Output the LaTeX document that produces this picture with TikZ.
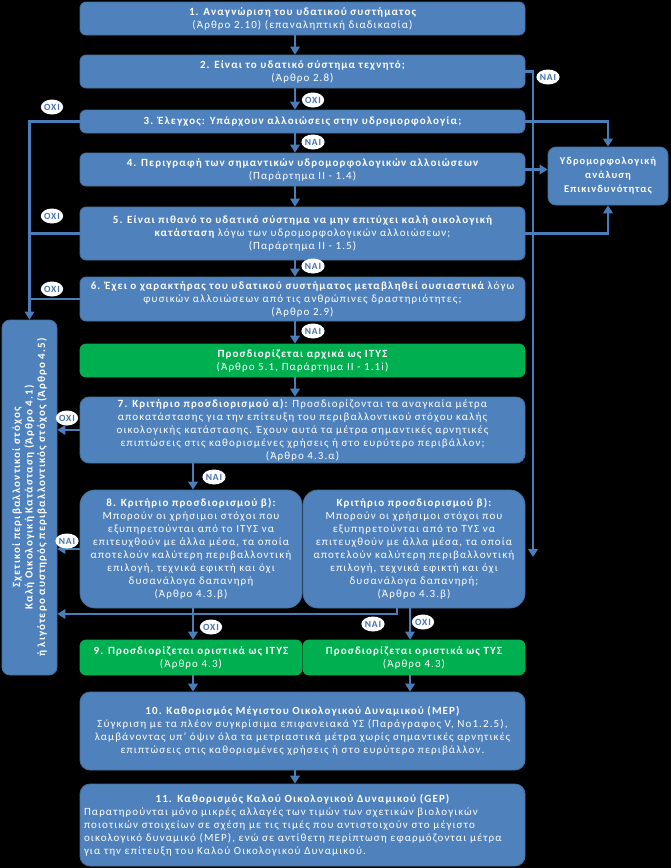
\documentclass[tikz,border=0pt]{standalone}
\usepackage{fontspec}
\setmainfont{Carlito}[LetterSpace=10]
\usetikzlibrary{arrows.meta,shapes.geometric}
\definecolor{boxblue}{HTML}{4F81BD}
\definecolor{boxedge}{HTML}{41719C}
\definecolor{linkblue}{HTML}{4A7EBB}
\definecolor{okgreen}{HTML}{00B050}
\definecolor{lbltext}{HTML}{4572B0}
\begin{document}
\begin{tikzpicture}[x=1pt,y=-1pt,
  blk/.style={draw=boxedge, line width=0.8pt, fill=boxblue, rounded corners=6pt, text=white, align=center, inner sep=1pt, font=\fontsize{11}{13}\selectfont},
  grn/.style={blk, fill=okgreen, draw=okgreen},
  lbl/.style={ellipse, fill=white, text=lbltext, inner sep=0pt, minimum width=21pt, minimum height=15pt, font=\fontsize{9.5}{10}\selectfont\bfseries},
  conn/.style={draw=linkblue, line width=2.4pt},
  arr/.style={conn, -{Triangle[width=9.5pt,length=8pt]}},
]
\fill[black] (0,0) rectangle (671,868);
\useasboundingbox (0,0) rectangle (671,868);

% boxes
\node[blk, minimum width=445pt, minimum height=33pt] (b1) at (302.5,18.5)
  {{\bfseries 1. Αναγνώριση του υδατικού συστήματος}\\(Άρθρο 2.10) (επαναληπτική διαδικασία)};
\node[blk, minimum width=445pt, minimum height=33pt] (b2) at (302.5,71.5)
  {{\bfseries 2. Είναι το υδατικό σύστημα τεχνητό;}\\(Άρθρο 2.8)};
\node[blk, minimum width=445pt, minimum height=23pt] (b3) at (302.5,121.5)
  {\bfseries 3. Έλεγχος: Υπάρχουν αλλοιώσεις στην υδρομορφολογία;};
\node[blk, minimum width=445pt, minimum height=33pt] (b4) at (302.5,169.5)
  {{\bfseries 4. Περιγραφή των σημαντικών υδρομορφολογικών αλλοιώσεων}\\(Παράρτημα ΙΙ - 1.4)};
\node[blk, minimum width=445pt, minimum height=53pt] (b5) at (302.5,233.5)
  {{\bfseries 5. Είναι πιθανό το υδατικό σύστημα να μην επιτύχει καλή οικολογική}\\{\bfseries κατάσταση} λόγω των υδρομορφολογικών αλλοιώσεων;\\(Παράρτημα ΙΙ - 1.5)};
\node[blk, minimum width=445pt, minimum height=44pt] (b6) at (302.5,299)
  {{\bfseries 6. Έχει ο χαρακτήρας του υδατικού συστήματος μεταβληθεί ουσιαστικά} λόγω\\φυσικών αλλοιώσεων από τις ανθρώπινες δραστηριότητες;\\(Άρθρο 2.9)};
\node[grn, minimum width=445pt, minimum height=33pt] (g1) at (302.5,360.5)
  {{\bfseries Προσδιορίζεται αρχικά ως ΙΤΥΣ}\\(Άρθρο 5.1, Παράρτημα ΙΙ - 1.1i)};
\node[blk, minimum width=445pt, minimum height=66pt, rounded corners=9pt] (b7) at (302.5,430)
  {{\bfseries 7. Κριτήριο προσδιορισμού α):} Προσδιορίζονται τα αναγκαία μέτρα\\αποκατάστασης για την επίτευξη του περιβαλλοντικού στόχου καλής\\οικολογικής κατάστασης. Έχουν αυτά τα μέτρα σημαντικές αρνητικές\\επιπτώσεις στις καθορισμένες χρήσεις ή στο ευρύτερο περιβάλλον;\\(Άρθρο 4.3.α)};
\node[blk, minimum width=222pt, minimum height=118pt, rounded corners=15pt] (b8) at (191,549)
  {{\bfseries 8. Κριτήριο προσδιορισμού β):}\\Μπορούν οι χρήσιμοι στόχοι που\\εξυπηρετούνται από το ΙΤΥΣ να\\επιτευχθούν με άλλα μέσα, τα οποία\\αποτελούν καλύτερη περιβαλλοντική\\επιλογή, τεχνικά εφικτή και όχι\\δυσανάλογα δαπανηρή\\(Άρθρο 4.3.β)};
\node[blk, minimum width=222pt, minimum height=118pt, rounded corners=15pt] (b8b) at (414,549)
  {{\bfseries Κριτήριο προσδιορισμού β):}\\Μπορούν οι χρήσιμοι στόχοι που\\εξυπηρετούνται από το ΤΥΣ να\\επιτευχθούν με άλλα μέσα, τα οποία\\αποτελούν καλύτερη περιβαλλοντική\\επιλογή, τεχνικά εφικτή και όχι\\δυσανάλογα δαπανηρή;\\(Άρθρο 4.3.β)};
\node[grn, minimum width=222pt, minimum height=35pt] (g9) at (191,657.5)
  {{\bfseries 9. Προσδιορίζεται οριστικά ως ΙΤΥΣ}\\(Άρθρο 4.3)};
\node[grn, minimum width=222pt, minimum height=35pt] (gT) at (414,657.5)
  {{\bfseries Προσδιορίζεται οριστικά ως ΤΥΣ}\\(Άρθρο 4.3)};
\node[blk, minimum width=445pt, minimum height=78pt, rounded corners=10pt] (b10) at (302.5,731)
  {{\bfseries 10. Καθορισμός Μέγιστου Οικολογικού Δυναμικού (MEP)}\\Σύγκριση με τα πλέον συγκρίσιμα επιφανειακά ΥΣ (Παράγραφος V, No1.2.5),\\λαμβάνοντας υπ' όψιν όλα τα μετριαστικά μέτρα χωρίς σημαντικές αρνητικές\\επιπτώσεις στις καθορισμένες χρήσεις ή στο ευρύτερο περιβάλλον.};
\node[blk, minimum width=445pt, minimum height=82pt, rounded corners=10pt, text width=437pt, align=left] (b11) at (302.5,825)
  {{\centering\bfseries 11. Καθορισμός Καλού Οικολογικού Δυναμικού (GEP)\par}Παρατηρούνται μόνο μικρές αλλαγές των τιμών των σχετικών βιολογικών\\ποιοτικών στοιχείων σε σχέση με τις τιμές που αντιστοιχούν στο μέγιστο\\οικολογικό δυναμικό (MEP), ενώ σε αντίθετη περίπτωση εφαρμόζονται μέτρα\\για την επίτευξη του Καλού Οικολογικού Δυναμικού.};
\node[blk, minimum width=120pt, minimum height=58pt, rounded corners=8pt, font=\fontsize{10.5}{14}\selectfont\bfseries] (hyd) at (608,176)
  {Υδρομορφολογική\\ανάλυση\\Επικινδυνότητας};
\node[blk, rotate=90, minimum width=355pt, minimum height=55pt, rounded corners=8pt, font=\fontsize{11}{12.5}\selectfont\bfseries] (lft) at (29.5,497.5)
  {Σχετικοί περιβαλλοντικοί στόχος\\Καλή Οικολογική Κατάσταση (Άρθρο 4.1)\\ή λιγότερο αυστηρός περιβαλλοντικός στόχος (Άρθρο 4.5)};

% helper coordinates
\coordinate (cx) at (295,0);
\coordinate (lx) at (193,0);
\coordinate (rxx) at (410,0);
\coordinate (j8) at (397,614);
\coordinate (rdown) at (533,557);

% main column
\draw[arr] (b1.south -| cx) -- (b2.north -| cx);
\draw[arr] (b2.south -| cx) -- (b3.north -| cx);
\draw[arr] (b3.south -| cx) -- (b4.north -| cx);
\draw[arr] (b4.south -| cx) -- (b5.north -| cx);
\draw[arr] (b5.south -| cx) -- (b6.north -| cx);
\draw[arr] (b6.south -| cx) -- (g1.north -| cx);
\draw[arr] (g1.south -| cx) -- (b7.north -| cx);
\draw[arr] (b7.south -| lx) -- (b8.north -| lx);
\draw[arr] (b8.south -| lx) -- (g9.north -| lx);
\draw[arr] (b8b.south -| rxx) -- (gT.north -| rxx);
\draw[arr] (g9.south -| lx) -- (b10.north -| lx);
\draw[arr] (gT.south -| rxx) -- (b10.north -| rxx);
\draw[arr] (b10.south -| cx) -- (b11.north -| cx);

% right side
\draw[arr] (b2.east) -| (rdown);
\draw[arr] (b3.east) -| (hyd.north);
\draw[arr] (b4.east) -- (b4.east -| hyd.west);
\draw[arr] (b5.east) -| (hyd.south);

% left side
\draw[arr] (b3.west) -| (lft.east);
\draw[conn] (b5.west) -- (b5.west -| lft.east);
\draw[conn] (b6.west) -- (b6.west -| lft.east);
\draw[arr] (b7.west) -- (b7.west -| lft.south);
\draw[arr] (b8.west) -- (b8.west -| lft.south);
\draw[arr] (b8b.south -| j8) -- (j8) -- (j8 -| lft.south);

% labels
\node[lbl] (l1) at (313,100) {ΟΧΙ};
\node[lbl] (l2) at (313,142) {ΝΑΙ};
\node[lbl] (l3) at (313,266) {ΝΑΙ};
\node[lbl] (l4) at (313,331) {ΝΑΙ};
\node[lbl] (l5) at (548,77) {ΝΑΙ};
\node[lbl] (l6) at (52,107) {ΟΧΙ};
\node[lbl] (l7) at (52,216) {ΟΧΙ};
\node[lbl] (l8) at (52,289) {ΟΧΙ};
\node[lbl] (l9) at (67,418) {ΟΧΙ};
\node[lbl] (l10) at (214,477) {ΝΑΙ};
\node[lbl] (l11) at (67,541) {ΝΑΙ};
\node[lbl] (l12) at (211,627) {ΟΧΙ};
\node[lbl] (l13) at (373,624) {ΝΑΙ};
\node[lbl] (l14) at (423,622) {ΟΧΙ};
\end{tikzpicture}
\end{document}
